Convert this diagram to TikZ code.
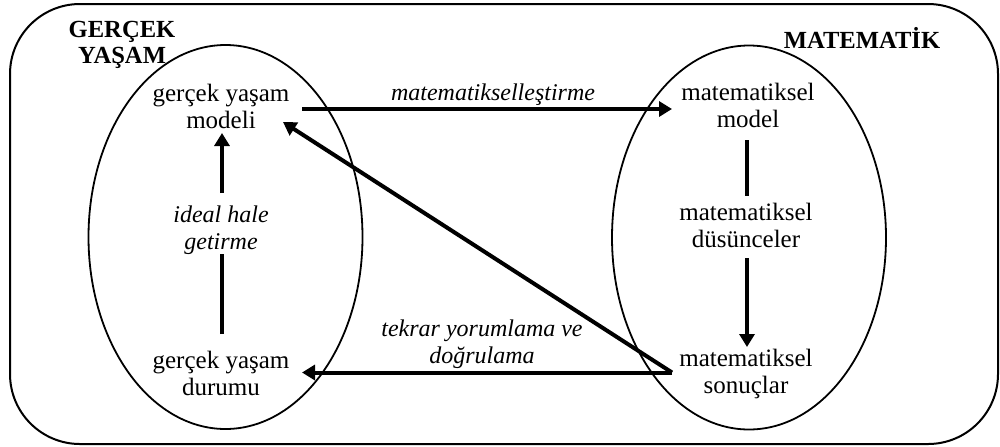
\documentclass[tikz,border=0pt]{standalone}
\usepackage{fontspec}
\setmainfont{Liberation Serif}
\usetikzlibrary{arrows.meta,shapes.geometric}
\begin{document}
\begin{tikzpicture}[x=0.5pt,y=-0.5pt,
  frame/.style={draw,line width=1pt,rounded corners=35pt},
  world/.style={draw,line width=0.9pt,ellipse,minimum width=137pt,minimum height=192pt,inner sep=0pt},
  txt/.style={align=center,inner sep=0pt,font=\fontsize{12.5}{13.5}\selectfont},
  itl/.style={align=center,inner sep=0pt,font=\fontsize{12}{13.5}\selectfont\itshape},
  ttl/.style={align=center,inner sep=0pt,font=\fontsize{12.3}{13}\selectfont\bfseries},
  arr/.style={line width=2pt,-{Triangle[length=6.5pt,width=7.5pt]}},
  seg/.style={line width=2pt}]
\useasboundingbox (0,0) rectangle (1000,446);
\draw[frame] (10,4) rectangle (998,444);
\node[world] (life) at (225.5,237) {};
\node[world] (math) at (749,237.5) {};
\node[ttl] (tlife) at (122,44.5) {GERÇEK\\YAŞAM};
\node[ttl,anchor=base] (tmath) at (862,48) {MATEMATİK};
\node[txt] (gym) at (221,106) {gerçek yaşam\\modeli};
\node[txt] (gyd) at (221,373) {gerçek yaşam\\durumu};
\node[txt] (mm) at (748,105) {matematiksel\\model};
\node[txt] (md) at (746,225.5) {matematiksel\\düsünceler};
\node[txt] (ms) at (746,374) {matematiksel\\sonuçlar};
\node[itl] (ideal) at (221,230.5) {ideal hale\\getirme};
\node[itl,anchor=base] (lmat) at (493,100) {matematikselleştirme};
\node[itl] (ltek) at (482,344) {tekrar yorumlama ve\\doğrulama};
% connector ends
\coordinate (a1s) at (302,109); \coordinate (a1e) at (672,109);
\coordinate (l1) at (222,334); \coordinate (l2) at (222,254);
\coordinate (l3) at (222,193); \coordinate (l4) at (222,133);
\coordinate (r1) at (747,140); \coordinate (r2) at (747,196);
\coordinate (r3) at (747,258); \coordinate (r4) at (747,347);
\coordinate (bs) at (672,372.5); \coordinate (be) at (302,372.5);
\coordinate (de) at (283,122);
\draw[arr] (a1s) -- (a1e);
\draw[seg] (l1) -- (l2);
\draw[arr] (l3) -- (l4);
\draw[seg] (r1) -- (r2);
\draw[arr] (r3) -- (r4);
\draw[arr] (bs) -- (be);
\draw[arr,line join=miter] (bs) -- (de);
\end{tikzpicture}
\end{document}
